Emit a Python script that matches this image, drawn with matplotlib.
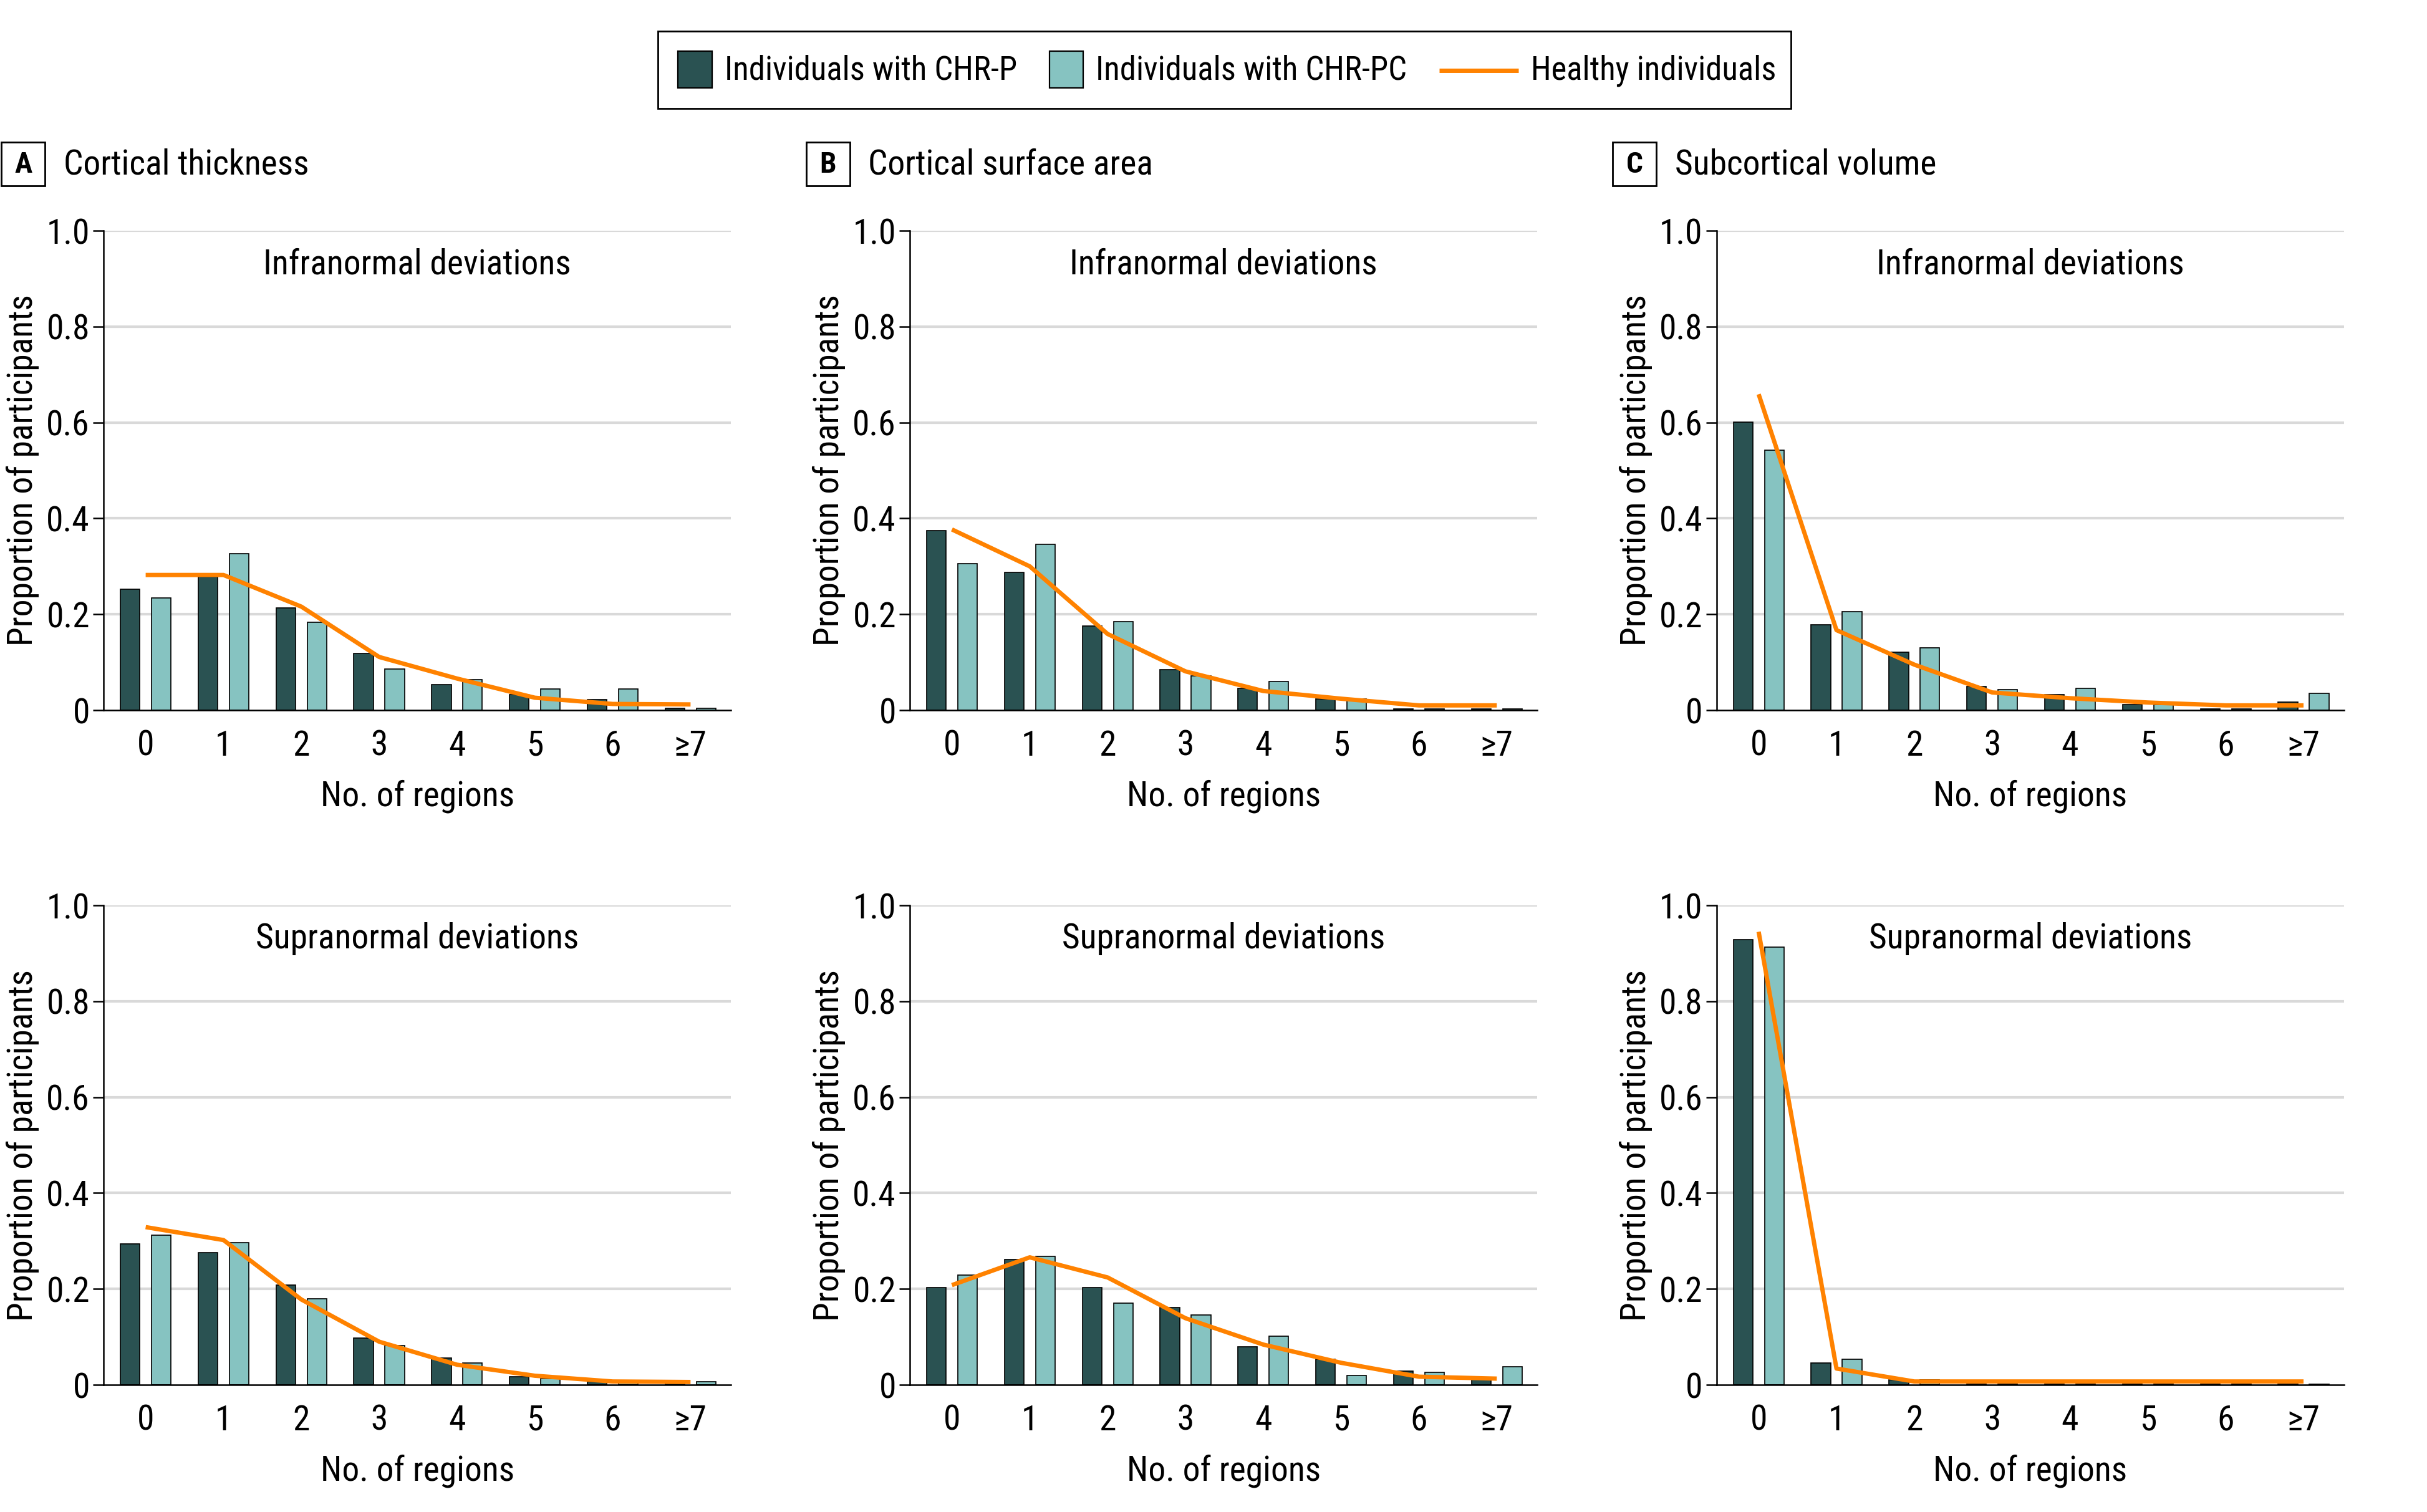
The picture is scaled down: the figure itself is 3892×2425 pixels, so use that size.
import numpy as np
import matplotlib.pyplot as plt
from matplotlib.patches import Rectangle
from matplotlib.lines import Line2D

plt.rcParams['font.family'] = ['Roboto Condensed', 'DejaVu Sans Condensed', 'Liberation Sans Narrow', 'DejaVu Sans']
plt.rcParams['font.stretch'] = 'condensed'

categories = ['0', '1', '2', '3', '4', '5', '6', '≥7']

# Cortical thickness
ct_infra_chrp = [0.252, 0.278, 0.213, 0.119, 0.053, 0.032, 0.022, 0.004]
ct_infra_chrpc = [0.234, 0.326, 0.183, 0.086, 0.064, 0.044, 0.044, 0.004]
ct_infra_hc = [0.282, 0.282, 0.216, 0.111, 0.066, 0.026, 0.013, 0.012]
ct_supra_chrp = [0.294, 0.276, 0.208, 0.098, 0.056, 0.017, 0.006, 0.007]
ct_supra_chrpc = [0.312, 0.296, 0.180, 0.082, 0.046, 0.013, 0.005, 0.007]
ct_supra_hc = [0.329, 0.302, 0.178, 0.090, 0.042, 0.019, 0.007, 0.006]

# Cortical surface area
sa_infra_chrp = [0.374, 0.288, 0.175, 0.085, 0.046, 0.024, 0.002, 0.002]
sa_infra_chrpc = [0.306, 0.346, 0.185, 0.071, 0.060, 0.024, 0.002, 0.002]
sa_infra_hc = [0.377, 0.300, 0.159, 0.081, 0.040, 0.024, 0.010, 0.010]
sa_supra_chrp = [0.203, 0.262, 0.203, 0.161, 0.079, 0.054, 0.029, 0.015]
sa_supra_chrpc = [0.229, 0.268, 0.171, 0.146, 0.102, 0.020, 0.026, 0.038]
sa_supra_hc = [0.208, 0.266, 0.224, 0.139, 0.084, 0.046, 0.017, 0.013]

# Subcortical volume
sv_infra_chrp = [0.601, 0.178, 0.121, 0.050, 0.033, 0.012, 0.002, 0.017]
sv_infra_chrpc = [0.542, 0.206, 0.130, 0.043, 0.046, 0.012, 0.002, 0.035]
sv_infra_hc = [0.659, 0.167, 0.095, 0.037, 0.025, 0.016, 0.010, 0.010]
sv_supra_chrp = [0.929, 0.046, 0.011, 0.002, 0.002, 0.002, 0.002, 0.002]
sv_supra_chrpc = [0.913, 0.053, 0.011, 0.002, 0.002, 0.002, 0.002, 0.002]
sv_supra_hc = [0.945, 0.034, 0.007, 0.007, 0.007, 0.007, 0.007, 0.007]

panels = [
    ('A', 'Cortical thickness', ct_infra_chrp, ct_infra_chrpc, ct_infra_hc, ct_supra_chrp, ct_supra_chrpc, ct_supra_hc),
    ('B', 'Cortical surface area', sa_infra_chrp, sa_infra_chrpc, sa_infra_hc, sa_supra_chrp, sa_supra_chrpc, sa_supra_hc),
    ('C', 'Subcortical volume', sv_infra_chrp, sv_infra_chrpc, sv_infra_hc, sv_supra_chrp, sv_supra_chrpc, sv_supra_hc),
]

legend_labels = ['Individuals with CHR-P', 'Individuals with CHR-PC', 'Healthy individuals']

dark = '#2a5252'
light = '#86c3c1'
orange = '#ff8200'
grid = '#d9d9d9'
fs = 20

fig = plt.figure(figsize=(19.46, 12.125), dpi=200)

x = np.arange(len(categories))
lefts = [0.0427, 0.3749, 0.7073]
bottoms = [0.5303, 0.0841]
w, h = 0.2585, 0.3171


def draw(ax, chrp, chrpc, hc, title):
    for yv in [0.2, 0.4, 0.6, 0.8, 1.0]:
        ax.axhline(yv, color=grid, lw=1.5, zorder=0)
    ax.bar(x - 0.2, chrp, 0.25, color=dark, edgecolor='black', lw=0.6, zorder=2)
    ax.bar(x + 0.2, chrpc, 0.25, color=light, edgecolor='black', lw=0.6, zorder=2)
    ax.plot(x, hc, color=orange, lw=2.5, zorder=3, solid_capstyle='butt')
    ax.set_xlim(-0.54, 7.52)
    ax.set_ylim(0, 1.0)
    ax.set_yticks([0, 0.2, 0.4, 0.6, 0.8, 1.0])
    ax.set_yticklabels(['0', '0.2', '0.4', '0.6', '0.8', '1.0'])
    ax.set_xticks(x)
    ax.set_xticklabels(categories)
    ax.tick_params(axis='x', length=0, labelsize=fs, pad=11)
    ax.tick_params(axis='y', length=6, width=0.9, labelsize=fs, pad=2)
    for s in ['top', 'right']:
        ax.spines[s].set_visible(False)
    ax.spines['left'].set_linewidth(0.9)
    ax.spines['bottom'].set_linewidth(0.9)
    ax.set_xlabel('No. of regions', fontsize=fs, labelpad=10)
    ax.set_ylabel('Proportion of participants', fontsize=fs, labelpad=4)
    ax.text(0.5, 0.93, title, transform=ax.transAxes, ha='center', va='center', fontsize=fs)


for i, (letter, name, ic, ip, ih, sc, sp, sh) in enumerate(panels):
    ax1 = fig.add_axes([lefts[i], bottoms[0], w, h])
    draw(ax1, ic, ip, ih, 'Infranormal deviations')
    ax2 = fig.add_axes([lefts[i], bottoms[1], w, h])
    draw(ax2, sc, sp, sh, 'Supranormal deviations')
    bx = [1, 521, 1042][i] / 1568
    fig.add_artist(Rectangle((bx, 1 - 120 / 977), 28 / 1568, 28 / 977, transform=fig.transFigure,
                             fc='white', ec='black', lw=1.0))
    fig.text(bx + 14 / 1568, 1 - 106.5 / 977, letter, fontsize=17, fontweight='bold',
             ha='center', va='center')
    fig.text(bx + 40 / 1568, 1 - 106.5 / 977, name, fontsize=fs, ha='left', va='center')

# legend drawn by hand: box, two swatches, one line
fig.add_artist(Rectangle((425 / 1568, 1 - 70 / 977), 732 / 1568, 50 / 977, transform=fig.transFigure,
                         fc='white', ec='black', lw=1.0))
ly = 1 - 45.5 / 977
for px, col in [(438, dark), (678, light)]:
    fig.add_artist(Rectangle((px / 1568, 1 - 57 / 977), 22 / 1568, 24 / 977, transform=fig.transFigure,
                             fc=col, ec='black', lw=0.8))
fig.add_artist(Line2D([930 / 1568, 981 / 1568], [ly, ly], transform=fig.transFigure,
                      color=orange, lw=2.5, solid_capstyle='butt'))
for tx, lab in zip([468, 708, 989], legend_labels):
    fig.text(tx / 1568, ly, lab, fontsize=19, ha='left', va='center')

fig.savefig('out.png', dpi=200)
